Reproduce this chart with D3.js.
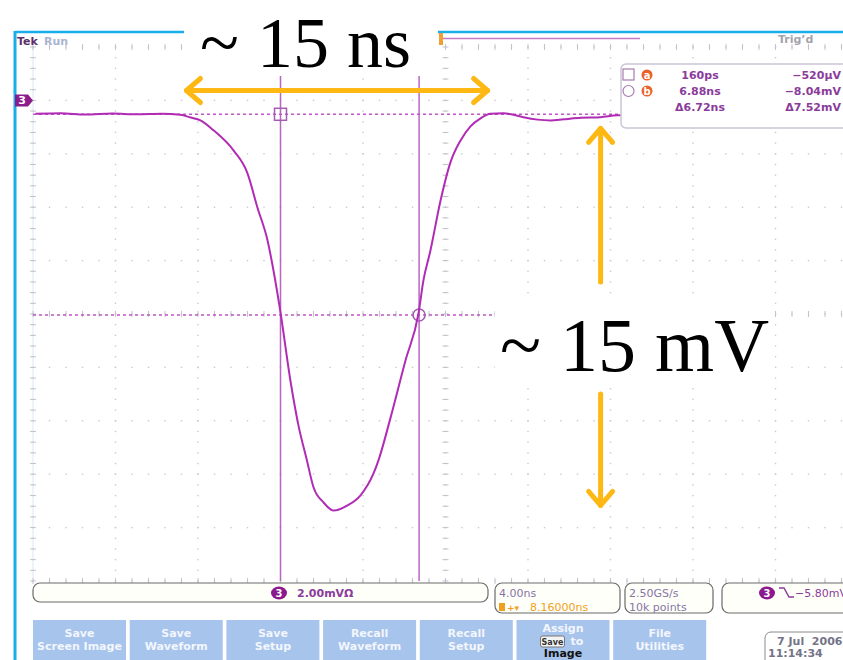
<!DOCTYPE html>
<html>
<head>
<meta charset="utf-8">
<script src="https://cdn.jsdelivr.net/npm/d3@7"></script>
<style>
  body { margin: 0; background: #fff; }
  svg { display: block; }
  .ui { font-family: "DejaVu Sans", Verdana, sans-serif; font-weight: bold; font-size: 11px; white-space: pre; }
  .note { font-family: "Liberation Serif", "Times New Roman", serif; fill: #000; }
</style>
</head>
<body>
<div id="chart"></div>
<script>
// scope settings
const nsPerDiv = 4;
const mvPerDiv = 2;
const trigDelayNs = 8.16;
const groundDivFromTop = 1;

// ch3 waveform (ns, mV)
const waveTimeNs = [-11.72, -10.5, -9.3, -8.0, -6.8, -5.6, -4.7, -4.2, -3.72, -3.09, -2.12, -1.44, -0.96, -0.47, -0.18,
  0.16, 0.64, 1.03, 1.44, 1.76, 2.25, 2.73, 3.41, 4.04, 4.67, 4.91, 5.49, 6.22, 6.85, 7.09, 7.43, 7.92, 8.40, 8.89,
  9.37, 9.86, 10.34, 10.97, 11.45, 11.94, 12.62, 13.25, 13.88, 14.71, 15.67, 16.50, 20.0, 24.0, 28.16];
const waveMv = [-0.50, -0.48, -0.53, -0.49, -0.52, -0.50, -0.54, -0.64, -0.75, -1.12, -1.87, -2.73, -4.01, -5.24, -6.37,
  -7.94, -10.49, -12.17, -13.48, -14.49, -15.06, -15.36, -15.17, -14.79, -13.97, -13.48, -11.90, -9.74, -7.98, -6.74, -5.62, -3.75, -2.32, -1.50,
  -0.97, -0.67, -0.50, -0.48, -0.54, -0.63, -0.72, -0.75, -0.71, -0.65, -0.63, -0.56, -0.55, -0.54, -0.55];

// cursors a / b
const cursorNames = ['a', 'b'];
const cursorTimeNs = [0.16, 6.88];
const cursorLevelMv = [-0.52, -8.04];
const readoutTime = ['160ps', '6.88ns', '\u03946.72ns'];
const readoutLevel = ['\u2212520\u00b5V', '\u22128.04mV', '\u03947.52mV'];

// annotation spans
const nsArrowNs = [-4.4, 10.2];
const nsArrowLevelMv = 0.37;
const mvArrowTimeNs = 15.68;
const mvArrowMv = [-1.05, -6.8, -11.0, -15.17];

// bottom menu
const buttonLabels = [['Save', 'Screen Image'], ['Save', 'Waveform'], ['Save', 'Setup'], ['Recall', 'Waveform'],
  ['Recall', 'Setup'], ['Assign', 'to', 'Image'], ['File', 'Utilities']];

const width = 843, height = 660;
const purple = '#8b3b9b', trace = '#b02cb4', amber = '#fdb813', frameBlue = '#19ade9';

const svg = d3.select('#chart').append('svg')
  .attr('width', width)
  .attr('height', height);

const x = d3.scaleLinear()
  .domain([trigDelayNs - 5 * nsPerDiv, trigDelayNs + 5 * nsPerDiv])
  .range([33, 858]);
const y = d3.scaleLinear()
  .domain([groundDivFromTop * mvPerDiv, -(10 - groundDivFromTop) * mvPerDiv])
  .range([47, 581]);

// graticule
const grid = svg.append('g').attr('class', 'graticule');
const [t0, t1] = x.domain();
const [v0, v1] = y.domain();
const majorT = d3.range(0, 11).map(i => t0 + i * nsPerDiv);
const majorV = d3.range(0, 11).map(i => v0 - i * mvPerDiv);
const minorT = d3.range(0, 51).map(i => t0 + i * nsPerDiv / 5);
const minorV = d3.range(0, 51).map(i => v0 - i * mvPerDiv / 5);

majorT.forEach(t => {
  grid.selectAll(null).data(minorV).enter().append('rect')
    .attr('x', x(t) - 0.7).attr('y', d => y(d) - 0.7)
    .attr('width', 1.4).attr('height', 1.4)
    .attr('fill', '#c9c9d3');
});
majorV.forEach(v => {
  grid.selectAll(null).data(minorT).enter().append('rect')
    .attr('x', d => x(d) - 0.7).attr('y', y(v) - 0.7)
    .attr('width', 1.4).attr('height', 1.4)
    .attr('fill', '#c9c9d3');
});
// edge line and ticks on the centre axes / borders
grid.append('line')
  .attr('x1', x(t0)).attr('x2', x(t0)).attr('y1', y(v0)).attr('y2', y(v1))
  .attr('stroke', '#dde7f2').attr('stroke-width', 1);
[x((t0 + t1) / 2), x(t0)].forEach(cx => {
  grid.selectAll(null).data(minorV).enter().append('line')
    .attr('x1', cx - 3).attr('x2', cx + 3)
    .attr('y1', d => y(d)).attr('y2', d => y(d))
    .attr('stroke', '#c3c3cf').attr('stroke-width', 1);
});
[y((v0 + v1) / 2), y(v0), y(v1)].forEach(cy => {
  grid.selectAll(null).data(minorT).enter().append('line')
    .attr('x1', d => x(d)).attr('x2', d => x(d))
    .attr('y1', cy - 3).attr('y2', cy + 3)
    .attr('stroke', '#c3c3cf').attr('stroke-width', 1);
});

// cursors
const cursors = svg.append('g').attr('class', 'cursors');
cursors.selectAll('line.vc')
  .data(cursorTimeNs).enter().append('line')
  .attr('class', 'vc')
  .attr('x1', d => x(d)).attr('x2', d => x(d))
  .attr('y1', y(v0)).attr('y2', y(v1))
  .attr('stroke', '#b766c3').attr('stroke-width', 1.5);
cursors.selectAll('line.hc')
  .data(cursorLevelMv).enter().append('line')
  .attr('class', 'hc')
  .attr('x1', x(t0)).attr('x2', 625)
  .attr('y1', d => y(d)).attr('y2', d => y(d))
  .attr('stroke', '#c154c4').attr('stroke-width', 1.5)
  .attr('stroke-dasharray', '3,3');

// waveform
const line = d3.line()
  .x((d, i) => x(waveTimeNs[i]))
  .y(d => y(d))
  .curve(d3.curveMonotoneX);
svg.append('path')
  .datum(waveMv)
  .attr('d', line)
  .attr('fill', 'none')
  .attr('stroke', trace)
  .attr('stroke-width', 2);

// cursor markers
cursors.append('rect')
  .attr('x', x(cursorTimeNs[0]) - 6).attr('y', y(cursorLevelMv[0]) - 6)
  .attr('width', 12).attr('height', 12)
  .attr('fill', 'none').attr('stroke', '#a45cb0').attr('stroke-width', 1.5);
cursors.append('circle')
  .attr('cx', x(cursorTimeNs[1])).attr('cy', y(cursorLevelMv[1]))
  .attr('r', 6)
  .attr('fill', 'none').attr('stroke', '#a45cb0').attr('stroke-width', 1.5);

// frame
svg.append('line')
  .attr('x1', 15).attr('x2', width).attr('y1', 32).attr('y2', 32)
  .attr('stroke', frameBlue).attr('stroke-width', 2.5);
svg.append('line')
  .attr('x1', 15).attr('x2', 15).attr('y1', 31).attr('y2', height)
  .attr('stroke', frameBlue).attr('stroke-width', 3);

// header
svg.append('text').attr('class', 'ui').attr('x', 17).attr('y', 45)
  .attr('font-size', 13).attr('fill', '#5b2f6b').text('Tek');
svg.append('text').attr('class', 'ui').attr('x', 44).attr('y', 45)
  .attr('font-size', 13).attr('font-weight', 'normal').attr('fill', '#aab4d2').text('Run');
svg.append('text').attr('class', 'ui').attr('x', 778).attr('y', 43)
  .attr('font-size', 13).attr('font-weight', 'normal').attr('fill', '#a3a3ad').text('Trig\u2019d');
svg.append('line')
  .attr('x1', 443).attr('x2', 640).attr('y1', 38.5).attr('y2', 38.5)
  .attr('stroke', '#c27ac4').attr('stroke-width', 1.5);
svg.append('rect')
  .attr('x', 439).attr('y', 33).attr('width', 4).attr('height', 12)
  .attr('fill', '#f0a030');

// ch3 ground marker
svg.append('path')
  .attr('d', `M15,${y(0) - 6}h13l5,6l-5,6h-13z`)
  .attr('fill', '#8c1c8c');
svg.append('text').attr('class', 'ui').attr('x', 22).attr('y', y(0) + 4)
  .attr('text-anchor', 'middle').attr('font-size', 10).attr('fill', '#fff').text('3');

// readout box
const ro = svg.append('g').attr('class', 'readout ui');
ro.append('rect')
  .attr('x', 621).attr('y', 64).attr('width', 240).attr('height', 64).attr('rx', 5)
  .attr('fill', '#fff').attr('stroke', '#cbc5d8').attr('stroke-width', 1.5);
ro.append('rect').attr('x', 623).attr('y', 69).attr('width', 11).attr('height', 11)
  .attr('fill', 'none').attr('stroke', '#a77bb0').attr('stroke-width', 1.2);
ro.append('circle').attr('cx', 628.5).attr('cy', 91).attr('r', 5.5)
  .attr('fill', 'none').attr('stroke', '#a77bb0').attr('stroke-width', 1.2);
cursorNames.forEach((n, i) => {
  ro.append('circle').attr('cx', 647).attr('cy', 75 + i * 16).attr('r', 5.5).attr('fill', '#e8622a');
  ro.append('text').attr('x', 647).attr('y', 79 + i * 16).attr('text-anchor', 'middle')
    .attr('font-size', 10).attr('fill', '#fff').text(n);
});
ro.selectAll('text.rt').data(readoutTime).enter().append('text')
  .attr('class', 'rt')
  .attr('x', 700).attr('y', (d, i) => 79 + i * 16)
  .attr('text-anchor', 'middle').attr('fill', purple).text(d => d);
ro.selectAll('text.rv').data(readoutLevel).enter().append('text')
  .attr('class', 'rv')
  .attr('x', 841).attr('y', (d, i) => 79 + i * 16)
  .attr('text-anchor', 'end').attr('fill', purple).text(d => d);

// status bar
const status = svg.append('g').attr('class', 'ui');
const boxes = [[33, 583, 455, 19], [495, 583, 125, 30], [625, 583, 88, 30], [722, 583, 140, 30]];
status.selectAll('rect').data(boxes).enter().append('rect')
  .attr('x', d => d[0]).attr('y', d => d[1]).attr('width', d => d[2]).attr('height', d => d[3])
  .attr('rx', 7).attr('fill', '#fffff9').attr('stroke', '#6a6a6a').attr('stroke-width', 1.2);
[[279, 593], [767, 593]].forEach(([cx, cy]) => {
  status.append('ellipse').attr('cx', cx).attr('cy', cy).attr('rx', 8).attr('ry', 6.5).attr('fill', '#8a1a8e');
  status.append('text').attr('x', cx).attr('y', cy + 4).attr('text-anchor', 'middle')
    .attr('font-size', 10).attr('fill', '#fff').text('3');
});
status.append('text').attr('x', 297).attr('y', 597).attr('fill', purple).text('2.00mV\u03a9');
status.append('text').attr('x', 499).attr('y', 597).attr('font-weight', 'normal').attr('fill', '#8676a6').text('4.00ns');
status.append('rect').attr('x', 499).attr('y', 603).attr('width', 6).attr('height', 8).attr('fill', '#f0a020');
status.append('text').attr('x', 507).attr('y', 611).attr('font-size', 9).attr('fill', '#f0a020').text('+\u25be');
status.append('text').attr('x', 530).attr('y', 611).attr('font-weight', 'normal').attr('fill', '#f0a020').text('8.16000ns');
status.append('text').attr('x', 629).attr('y', 597).attr('font-weight', 'normal').attr('fill', '#8676a6').text('2.50GS/s');
status.append('text').attr('x', 629).attr('y', 611).attr('font-weight', 'normal').attr('fill', '#8676a6').text('10k points');
status.append('path').attr('d', 'M779,588l5,0l5,9l5,0').attr('fill', 'none').attr('stroke', purple).attr('stroke-width', 1.4);
status.append('text').attr('x', 795).attr('y', 597).attr('font-weight', 'normal').attr('fill', purple).text('\u22125.80mV');

// menu buttons
const menu = svg.append('g').attr('class', 'ui');
buttonLabels.forEach((lines, i) => {
  const bx = 33 + i * 96.7;
  menu.append('rect').attr('x', bx).attr('y', 620).attr('width', 93).attr('height', 50).attr('fill', '#a7c4ec');
  const three = lines.length === 3;
  lines.forEach((s, j) => {
    const last = three && j === 2;
    menu.append('text')
      .attr('x', bx + 46.5 + (three && j === 1 ? 14 : 0))
      .attr('y', (three ? 632 : 637) + j * 12.5)
      .attr('text-anchor', 'middle')
      .attr('fill', last ? '#111' : '#f3f6fc')
      .text(s);
  });
  if (three) {
    menu.append('rect').attr('x', bx + 24).attr('y', 636).attr('width', 24).attr('height', 11).attr('rx', 2)
      .attr('fill', '#f4f4f4').attr('stroke', '#777');
    menu.append('text').attr('x', bx + 36).attr('y', 645).attr('text-anchor', 'middle')
      .attr('font-size', 8).attr('fill', '#333').text('Save');
  }
});
svg.append('rect').attr('x', 765).attr('y', 632).attr('width', 100).attr('height', 40).attr('rx', 6)
  .attr('fill', '#fff').attr('stroke', '#8a8a8a');
svg.append('text').attr('class', 'ui').attr('x', 777).attr('y', 645).attr('font-weight', 'normal')
  .attr('font-size', 13).attr('fill', '#747488').text('7 Jul  2006');
svg.append('text').attr('class', 'ui').attr('x', 768).attr('y', 657).attr('font-weight', 'normal')
  .attr('font-size', 13).attr('fill', '#747488').text('11:14:34');

// annotations
const notes = svg.append('g').attr('class', 'annotations');
notes.append('rect').attr('x', 184).attr('y', 0).attr('width', 254).attr('height', 76).attr('fill', '#fff');
notes.append('rect').attr('x', 495).attr('y', 300).attr('width', 280).attr('height', 85).attr('fill', '#fff');
notes.append('text').attr('class', 'note').attr('x', 200).attr('y', 67).attr('font-size', 72).text('~ 15 ns');
notes.append('text').attr('class', 'note').attr('x', 500).attr('y', 371).attr('font-size', 76).text('~ 15 mV');

const arrow = { stroke: amber, 'stroke-width': 5, 'stroke-linecap': 'round', 'stroke-linejoin': 'round', fill: 'none' };
const styled = sel => { Object.entries(arrow).forEach(([k, v]) => sel.attr(k, v)); return sel; };
const ay = y(nsArrowLevelMv);
const [ax1, ax2] = nsArrowNs.map(x);
styled(notes.append('line').attr('x1', ax1).attr('x2', ax2).attr('y1', ay).attr('y2', ay));
styled(notes.append('path').attr('d', `M${ax1 + 14},${ay - 12}L${ax1},${ay}L${ax1 + 14},${ay + 12}`));
styled(notes.append('path').attr('d', `M${ax2 - 14},${ay - 12}L${ax2},${ay}L${ax2 - 14},${ay + 12}`));
const mx = x(mvArrowTimeNs);
const [my1, my2, my3, my4] = mvArrowMv.map(y);
styled(notes.append('line').attr('x1', mx).attr('x2', mx).attr('y1', my1).attr('y2', my2));
styled(notes.append('line').attr('x1', mx).attr('x2', mx).attr('y1', my3).attr('y2', my4));
styled(notes.append('path').attr('d', `M${mx - 12},${my1 + 14}L${mx},${my1}L${mx + 12},${my1 + 14}`));
styled(notes.append('path').attr('d', `M${mx - 12},${my4 - 14}L${mx},${my4}L${mx + 12},${my4 - 14}`));
</script>
</body>
</html>
